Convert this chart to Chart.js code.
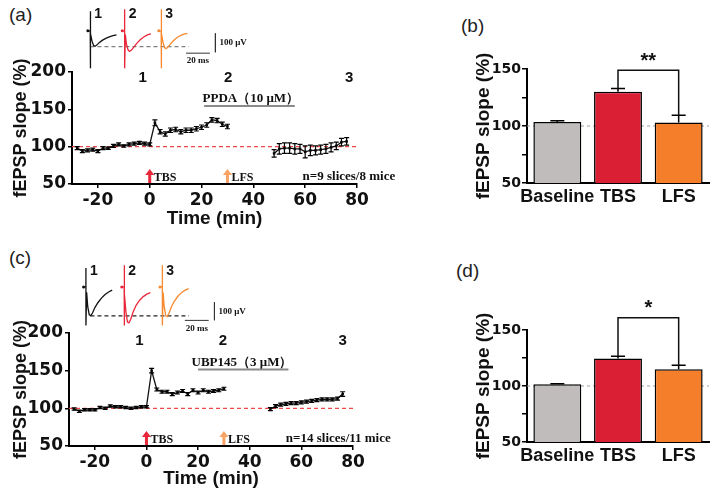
<!DOCTYPE html>
<html>
<head>
<meta charset="utf-8">
<script src="https://cdn.jsdelivr.net/npm/chart.js@4.4.1/dist/chart.umd.min.js"></script>
<style>
body { margin: 0; background: #fff; width: 716px; height: 494px; position: relative; overflow: hidden; }
canvas { position: absolute; }
.tag { position: absolute; font: 19px "Liberation Sans", Arial, sans-serif; color: #222; line-height: 1; }
</style>
</head>
<body>
<div class="tag" style="left:9px;top:5px">(a)</div>
<div class="tag" style="left:461px;top:16px">(b)</div>
<div class="tag" style="left:9px;top:248px">(c)</div>
<div class="tag" style="left:456px;top:261px">(d)</div>

<canvas id="chartA" width="440" height="234" style="left:0;top:0"></canvas>
<canvas id="traceA" width="180" height="75" style="left:75px;top:0"></canvas>
<canvas id="chartB" width="276" height="215" style="left:440px;top:0"></canvas>
<canvas id="chartC" width="440" height="244" style="left:0;top:250px"></canvas>
<canvas id="traceC" width="180" height="80" style="left:75px;top:255px"></canvas>
<canvas id="chartD" width="276" height="244" style="left:440px;top:250px"></canvas>

<script>
// time points (min)
const timePre  = [-28, -26, -24, -22, -20, -18, -16, -14, -12, -10, -8, -6, -4, -2, 0];
const timePost = [2, 4, 6, 8, 10, 12, 14, 16, 18, 20, 22, 24, 26, 28, 30];
const timeLfs  = [48, 50, 52, 54, 56, 58, 60, 62, 64, 66, 68, 70, 72, 74, 76];
const xTicks = [-20, 0, 20, 40, 60, 80];

// panel (a) PPDA
const slopeAPre  = [98, 94, 95, 96, 94, 98, 98, 101, 103, 101, 103, 104, 105, 104, 103];
const errAPre    = [2, 2, 2, 2, 2, 2, 1.5, 2, 2, 1.5, 2, 2, 2, 2, 2];
const slopeAPost = [132, 120, 117, 122, 123, 120, 122, 122, 124, 126, 129, 136, 135, 130, 127];
const errAPost   = [4, 3, 3, 3, 3, 3, 3, 3, 3, 3, 3, 3, 3, 3, 3];
const slopeALfs  = [91, 97, 98, 98, 97, 97, 93, 95, 95, 96, 97, 99, 101, 106, 107];
const errALfs    = [5, 7, 7, 7, 7, 6, 8, 7, 6, 6, 6, 6, 5, 5, 5];

// panel (c) UBP145
const slopeCPre  = [99, 96, 98, 98, 98, 101, 100, 103, 102, 102, 101, 100, 101, 102, 102];
const errCPre    = [1.5, 1.5, 1.5, 1.5, 1.5, 1.5, 1.5, 1.5, 1.5, 1.5, 1.5, 1.5, 1.5, 1.5, 1.5];
const slopeCPost = [150, 125, 122, 122, 119, 121, 123, 119, 124, 121, 124, 122, 123, 124, 126];
const errCPost   = [3, 2, 2, 2, 2, 2, 2, 2, 2, 2, 2, 2, 2, 2, 2];
const slopeCLfs  = [99, 103, 105, 106, 107, 107, 108, 109, 110, 111, 112, 112, 112, 113, 119];
const errCLfs    = [2, 2, 2, 2, 2, 2, 2, 2, 2, 2, 2, 2, 2, 2, 3];

// bar panels
const groups = ['Baseline', 'TBS', 'LFS'];
const barB = [103.5, 130, 103];
const errB = [1, 3, 6.5];
const barD = [101.5, 124.5, 115];
const errD = [0.5, 2, 3.5];
const barColors = ['#c1bcbc', '#da1f34', '#f47e29'];

// example fEPSP traces (ms after stimulus, µV)
const traceT = [-2, 0, 0, 0, 0.6, 1.5, 2.8, 4, 5.5, 7.5, 10, 13, 16, 19, 22];
const traceA1 = [0, 0, 105, -200, -15, -55, -78, -82, -76, -63, -51, -40, -32, -26, -22];
const traceA2 = [0, 0, 115, -200, -20, -70, -100, -110, -104, -88, -68, -48, -33, -22, -16];
const traceA3 = [0, 0, 115, -200, -15, -60, -88, -95, -88, -72, -54, -37, -25, -17, -13];
const traceC1 = [0, 0, 105, -215, -30, -110, -155, -160, -145, -115, -88, -62, -42, -28, -18];
const traceC2 = [0, 0, 120, -215, -40, -140, -195, -200, -180, -140, -102, -74, -54, -40, -32];
const traceC3 = [0, 0, 120, -215, -30, -110, -160, -165, -148, -112, -80, -52, -32, -18, -10];
const traceColors = ['#111', '#e8283a', '#f7892f'];

const RED = '#e8283a', ORANGE = '#f8a264';

const errorBars = {
  id: 'errorBars',
  afterDatasetsDraw(chart) {
    const ctx = chart.ctx, ys = chart.scales.y;
    chart.data.datasets.forEach((ds, i) => {
      if (!ds.errors) return;
      const meta = chart.getDatasetMeta(i);
      ctx.save();
      ctx.strokeStyle = '#000';
      ctx.lineWidth = ds.errWidth || 1.2;
      meta.data.forEach((el, j) => {
        const v = typeof ds.data[j] === 'object' ? ds.data[j].y : ds.data[j];
        const hi = ys.getPixelForValue(v + ds.errors[j]);
        const lo = ds.upOnly ? el.y : ys.getPixelForValue(v - ds.errors[j]);
        const c = ds.capHalf || 2.5;
        ctx.beginPath();
        ctx.moveTo(el.x, lo); ctx.lineTo(el.x, hi);
        ctx.moveTo(el.x - c, hi); ctx.lineTo(el.x + c, hi);
        if (!ds.upOnly) { ctx.moveTo(el.x - c, lo); ctx.lineTo(el.x + c, lo); }
        ctx.stroke();
      });
      ctx.restore();
    });
  }
};

function drawArrow(ctx, x, yBase, yTip, color) {
  ctx.fillStyle = color;
  ctx.fillRect(x - 1.5, yTip + 5, 3, yBase - yTip - 5);
  ctx.beginPath();
  ctx.moveTo(x - 4.5, yTip + 6);
  ctx.lineTo(x + 4.5, yTip + 6);
  ctx.lineTo(x, yTip);
  ctx.closePath();
  ctx.fill();
}

function lineNotes(cfg) {
  return {
    id: 'lineNotes',
    beforeDatasetsDraw(chart) {
      const { ctx, chartArea, scales: { y } } = chart;
      const py = y.getPixelForValue(100);
      ctx.save();
      ctx.strokeStyle = '#f04848';
      ctx.lineWidth = 1.2;
      ctx.setLineDash([4, 3]);
      ctx.beginPath();
      ctx.moveTo(chartArea.left, py); ctx.lineTo(chartArea.right, py);
      ctx.stroke();
      ctx.restore();
    },
    afterDraw(chart) {
      const { ctx, scales: { x, y } } = chart;
      ctx.save();
      ctx.fillStyle = '#111';
      ctx.textBaseline = 'middle';
      ctx.textAlign = 'center';
      ctx.font = 'bold 15px "Liberation Sans"';
      cfg.marks.forEach((m, i) => ctx.fillText(String(i + 1), x.getPixelForValue(m), y.getPixelForValue(cfg.markY)));

      ctx.font = 'bold 13px "Liberation Serif"';
      ctx.fillText(cfg.drug, x.getPixelForValue(cfg.drugT), y.getPixelForValue(cfg.drugY));
      ctx.strokeStyle = '#8a8a8a';
      ctx.lineWidth = 2;
      const uy = y.getPixelForValue(cfg.drugY) + 7;
      ctx.beginPath();
      ctx.moveTo(x.getPixelForValue(cfg.drugFrom), uy);
      ctx.lineTo(x.getPixelForValue(cfg.drugTo), uy);
      ctx.stroke();

      const base = y.bottom - 1, tip = y.bottom - 15;
      const xt = x.getPixelForValue(0), xl = x.getPixelForValue(30);
      drawArrow(ctx, xt, base, tip, RED);
      drawArrow(ctx, xl, base, tip, ORANGE);
      ctx.fillStyle = '#111';
      ctx.textAlign = 'left';
      ctx.font = 'bold 12px "Liberation Serif"';
      ctx.fillText('TBS', xt + 4, base - 5);
      ctx.fillText('LFS', xl + 4, base - 5);
      ctx.font = 'bold 13px "Liberation Serif"';
      ctx.fillText(cfg.nText, x.getPixelForValue(cfg.nT), base - 6);
      ctx.restore();
    }
  };
}

function lineChart(id, cfg) {
  // baseline and post-TBS recordings form one continuous trace; post-LFS is separate
  const series = [
    [timePre.concat(timePost), cfg.pre.concat(cfg.post), cfg.preErr.concat(cfg.postErr)],
    [timeLfs, cfg.lfs, cfg.lfsErr]
  ];
  return new Chart(document.getElementById(id), {
    type: 'line',
    data: {
      datasets: series.map(([t, v, e]) => ({
        data: t.map((tt, i) => ({ x: tt, y: v[i] })),
        errors: e,
        borderColor: '#111',
        borderWidth: 1.3,
        pointStyle: 'rect',
        pointRadius: 1.8,
        pointBackgroundColor: '#111',
        pointBorderWidth: 0,
        tension: 0
      }))
    },
    options: {
      responsive: false,
      animation: false,
      devicePixelRatio: 1,
      layout: { padding: { top: cfg.padTop, right: cfg.padRight, left: 0, bottom: 0 } },
      plugins: { legend: { display: false }, tooltip: { enabled: false } },
      scales: {
        x: {
          type: 'linear', min: -30, max: 80,
          afterBuildTicks: s => { s.ticks = xTicks.map(v => ({ value: v })); },
          afterFit: s => { s.height = cfg.xH; },
          grid: { drawOnChartArea: false, color: '#000', tickLength: 4, lineWidth: 1.5 },
          border: { color: '#000', width: 2 },
          ticks: { font: { family: 'DejaVu Sans', weight: 'bold', size: 17 }, color: '#111', padding: 2, maxRotation: 0 },
          title: { display: true, text: 'Time (min)', color: '#111',
                   font: { family: 'Liberation Sans', weight: 'bold', size: 19 }, padding: { top: 0, bottom: 4 } }
        },
        y: {
          min: 50, max: 200,
          afterFit: s => { s.width = cfg.yW; },
          grid: { drawOnChartArea: false, color: '#000', tickLength: 4, lineWidth: 1.5 },
          border: { color: '#000', width: 2 },
          ticks: { stepSize: 50, font: { family: 'DejaVu Sans', weight: 'bold', size: 17 }, color: '#111', padding: 2 },
          title: { display: true, text: 'fEPSP slope (%)', color: '#111',
                   font: { family: 'Liberation Sans', weight: 'bold', size: 18 }, padding: { top: 10, bottom: 0 } }
        }
      }
    },
    plugins: [errorBars, lineNotes(cfg)]
  });
}

function barNotes(cfg) {
  return {
    id: 'barNotes',
    beforeDatasetsDraw(chart) {
      const { ctx, chartArea, scales: { y } } = chart;
      const py = y.getPixelForValue(100);
      ctx.save();
      ctx.strokeStyle = '#a0a0a0';
      ctx.lineWidth = 1;
      ctx.setLineDash([3, 3]);
      ctx.beginPath();
      ctx.moveTo(chartArea.left, py); ctx.lineTo(chartArea.right, py);
      ctx.stroke();
      ctx.restore();
    },
    afterDraw(chart) {
      const { ctx, scales: { y } } = chart;
      const bars = chart.getDatasetMeta(0).data;
      const x1 = bars[1].x, x2 = bars[2].x;
      const top = y.getPixelForValue(cfg.bracketTop);
      const y1 = y.getPixelForValue(cfg.values[1] + cfg.errors[1]);
      const y2 = y.getPixelForValue(cfg.values[2] + cfg.errors[2]);
      ctx.save();
      ctx.strokeStyle = '#111';
      ctx.lineWidth = 1.5;
      ctx.beginPath();
      ctx.moveTo(x1, y1); ctx.lineTo(x1, top); ctx.lineTo(x2, top); ctx.lineTo(x2, y2);
      ctx.stroke();
      ctx.fillStyle = '#111';
      ctx.textAlign = 'center';
      ctx.textBaseline = 'middle';
      ctx.font = 'bold 20px "Liberation Sans"';
      ctx.fillText(cfg.stars, (x1 + x2) / 2, top - 9);
      ctx.restore();
    }
  };
}

function barChart(id, cfg) {
  return new Chart(document.getElementById(id), {
    type: 'bar',
    data: {
      labels: groups,
      datasets: [{
        data: cfg.values,
        errors: cfg.errors,
        upOnly: true,
        capHalf: 7,
        errWidth: 1.5,
        backgroundColor: barColors,
        borderColor: '#000',
        borderWidth: 1.5,
        categoryPercentage: 1,
        barPercentage: 0.79
      }]
    },
    options: {
      responsive: false,
      animation: false,
      devicePixelRatio: 1,
      layout: { padding: { top: cfg.padTop, right: 7, left: 0, bottom: 0 } },
      plugins: { legend: { display: false }, tooltip: { enabled: false } },
      scales: {
        x: {
          afterFit: s => { s.height = cfg.xH; },
          grid: { display: false, drawTicks: false },
          border: { color: '#000', width: 2 },
          ticks: { font: { family: 'Liberation Sans', weight: 'bold', size: 18 }, color: '#111', padding: 3,
                   maxRotation: 0, minRotation: 0, autoSkip: false }
        },
        y: {
          min: 50, max: 150,
          afterFit: s => { s.width = 87; },
          grid: { drawOnChartArea: false, color: '#000', tickLength: 5, lineWidth: 1.5 },
          border: { color: '#000', width: 2 },
          ticks: { stepSize: 25, callback: v => (v % 50 === 0 ? v : ''),
                   font: { family: 'DejaVu Sans', weight: 'bold', size: 14 }, color: '#111', padding: 1 },
          title: { display: true, text: 'fEPSP slope (%)', color: '#111',
                   font: { family: 'Liberation Sans', weight: 'bold', size: 19 }, padding: { top: 32, bottom: 0 } }
        }
      }
    },
    plugins: [errorBars, barNotes(cfg)]
  });
}

function traceNotes(cfg) {
  return {
    id: 'traceNotes',
    afterDraw(chart) {
      const { ctx, scales: { x, y } } = chart;
      ctx.save();
      ctx.fillStyle = '#111';
      ctx.textBaseline = 'middle';
      ctx.textAlign = 'left';
      ctx.font = 'bold 14px "Liberation Sans"';
      cfg.offsets.forEach((o, i) => ctx.fillText(String(i + 1), x.getPixelForValue(o) + 4, cfg.numY));
      ctx.font = 'bold 9px "Liberation Serif"';
      ctx.fillText('100 μV', x.getPixelForValue(cfg.barT) + 4, y.getPixelForValue(cfg.barTop - 50));
      ctx.textAlign = 'center';
      ctx.fillText('20 ms', x.getPixelForValue(cfg.hbarT + 10), y.getPixelForValue(cfg.hbarY) + 8);
      ctx.restore();
    }
  };
}

function traceChart(id, cfg) {
  const ds = cfg.traces.map((tr, i) => ({
    data: traceT.map((t, j) => ({ x: cfg.offsets[i] + t, y: tr[j] })),
    borderColor: traceColors[i],
    borderWidth: 1.3,
    pointRadius: c => (c.dataIndex === 0 ? 1.5 : 0),
    pointBackgroundColor: traceColors[i],
    pointBorderWidth: 0,
    tension: 0
  }));
  ds.push({
    data: [{ x: cfg.dashFrom, y: cfg.dashY }, { x: cfg.dashTo, y: cfg.dashY }],
    borderColor: cfg.dashColor, borderWidth: 1.3, borderDash: [4, 3], pointRadius: 0
  });
  ds.push({
    data: [{ x: cfg.barT, y: cfg.barTop }, { x: cfg.barT, y: cfg.barTop - 100 }],
    borderColor: '#333', borderWidth: 1, pointRadius: 0
  });
  ds.push({
    data: [{ x: cfg.hbarT, y: cfg.hbarY }, { x: cfg.hbarT + 20, y: cfg.hbarY }],
    borderColor: '#333', borderWidth: 1, pointRadius: 0
  });
  return new Chart(document.getElementById(id), {
    type: 'line',
    data: { datasets: ds },
    options: {
      responsive: false,
      animation: false,
      devicePixelRatio: 1,
      layout: { padding: 0 },
      plugins: { legend: { display: false }, tooltip: { enabled: false } },
      scales: {
        x: { type: 'linear', display: false, min: 0, max: 144 },
        y: { display: false, min: cfg.yMin, max: cfg.yMax }
      }
    },
    plugins: [traceNotes(cfg)]
  });
}

lineChart('chartA', {
  pre: slopeAPre, preErr: errAPre, post: slopeAPost, postErr: errAPost, lfs: slopeALfs, lfsErr: errALfs,
  padTop: 72, padRight: 83, yW: 72, xH: 50,
  marks: [-2.7, 30.3, 77], markY: 192,
  drug: 'PPDA（10 μM）', drugT: 39, drugY: 164, drugFrom: 21, drugTo: 56,
  nText: 'n=9 slices/8 mice', nT: 59
});

lineChart('chartC', {
  pre: slopeCPre, preErr: errCPre, post: slopeCPost, postErr: errCPost, lfs: slopeCLfs, lfsErr: errCLfs,
  padTop: 83, padRight: 87, yW: 69, xH: 48,
  marks: [-2.7, 29.6, 76], markY: 190,
  drug: 'UBP145（3 μM）', drugT: 37, drugY: 161, drugFrom: 20, drugTo: 55,
  nText: 'n=14 slices/11 mice', nT: 54
});

barChart('chartB', { values: barB, errors: errB, padTop: 69, xH: 32, bracketTop: 149, stars: '**' });
barChart('chartD', { values: barD, errors: errD, padTop: 80, xH: 52, bracketTop: 161, stars: '*' });

traceChart('traceA', {
  traces: [traceA1, traceA2, traceA3], offsets: [9.4, 38.2, 68.8],
  yMin: -214, yMax: 143, numY: 14,
  dashFrom: 9.6, dashTo: 92, dashY: -84, dashColor: '#808080',
  barT: 114.2, barTop: -14, hbarT: 89.6, hbarY: -119
});

traceChart('traceC', {
  traces: [traceC1, traceC2, traceC3], offsets: [5.8, 37.8, 69.8],
  yMin: -245, yMax: 155, numY: 16,
  dashFrom: 9.6, dashTo: 92, dashY: -161, dashColor: '#222',
  barT: 113.4, barTop: -85, hbarT: 88.6, hbarY: -186
});
</script>
</body>
</html>
